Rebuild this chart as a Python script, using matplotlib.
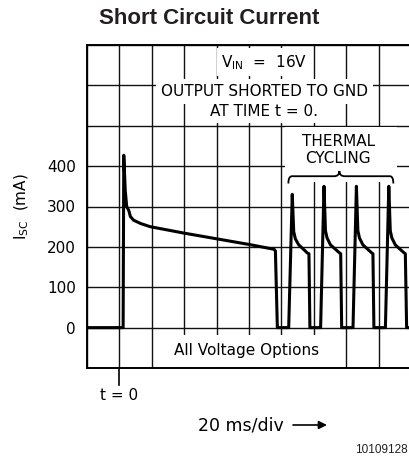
import matplotlib
matplotlib.use("Agg")
import matplotlib.pyplot as plt
from matplotlib.path import Path
from matplotlib.patches import PathPatch, Rectangle

plt.rcParams['font.family'] = ['DejaVu Sans']
plt.rcParams['mathtext.default'] = 'regular'

# time in ms (20 ms/div), current in mA
t_main = [-20, 2.3, 2.7, 3.6, 4.5, 5.8, 6.8, 8.8, 13, 19, 40, 60, 80, 95.5, 96.3, 97.5]
i_main = [0, 0, 427, 340, 300, 290, 275, 266, 258, 250, 234, 220, 206, 194, 190, 0]

t_cyc1 = [97.5, 104.5, 106.7, 107.6, 108.6, 110.7, 116.0, 117.0, 117.6]
i_cyc1 = [0, 0, 330, 238, 220, 205, 185, 183, 0]
t_cyc2 = [117.6, 124.2, 126.3, 127.2, 128.2, 130.3, 135.6, 136.6, 137.2]
i_cyc2 = [0, 0, 350, 240, 222, 205, 186, 183, 0]
t_cyc3 = [137.2, 144.2, 146.3, 147.2, 148.2, 150.3, 155.5, 156.5, 157.1]
i_cyc3 = [0, 0, 350, 240, 222, 205, 186, 183, 0]
t_cyc4 = [157.1, 164.2, 166.3, 167.2, 168.2, 170.3, 175.5, 176.5, 177.3, 182]
i_cyc4 = [0, 0, 350, 240, 222, 205, 186, 183, 0, 0]

y_ticks = [-100, 0, 100, 200, 300, 400, 500, 600, 700]
y_labels = ['', '0', '100', '200', '300', '400', '', '', '']
x_ticks = list(range(-20, 181, 20))

W, H = 409, 463
fig = plt.figure(figsize=(W / 100, H / 100), dpi=100)
ax = fig.add_axes([87 / W, (H - 368) / H, (411 - 87) / W, (368 - 45) / H])

t_all = t_main + t_cyc1[1:] + t_cyc2[1:] + t_cyc3[1:] + t_cyc4[1:]
i_all = i_main + i_cyc1[1:] + i_cyc2[1:] + i_cyc3[1:] + i_cyc4[1:]
ax.plot(t_all, i_all, color='black', lw=2.2, solid_joinstyle='round', zorder=3)

ax.set_xlim(-20, 180)
ax.set_ylim(-100, 700)
ax.set_xticks(x_ticks)
ax.set_xticklabels([])
ax.set_yticks(y_ticks)
ax.set_yticklabels(y_labels)
ax.tick_params(length=0, labelsize=11, pad=8)
ax.set_axisbelow(True)
ax.grid(True, color='#111111', lw=1.0)
for s in ax.spines.values():
    s.set_linewidth(1.4)

# text boxes inside the grid
box = dict(boxstyle='square,pad=0.3', fc='white', ec='none')
ax.text(89.5, 657, 'V$_{IN}$  =  16V', ha='center', va='center', fontsize=11, bbox=box, zorder=4)
ax.text(89.5, 585, 'OUTPUT SHORTED TO GND', ha='center', va='center', fontsize=11,
        bbox=dict(boxstyle='square,pad=0.35', fc='white', ec='none'), zorder=4)
ax.text(89.5, 536, 'AT TIME t = 0.', ha='center', va='center', fontsize=11, bbox=box, zorder=4)
ax.text(78.7, -57, 'All Voltage Options', ha='center', va='center', fontsize=11,
        bbox=dict(boxstyle='square,pad=0.55', fc='white', ec='none'), zorder=4)

ax.add_patch(Rectangle((102.5, 360), 69, 138, fc='white', ec='none', zorder=1))
ax.text(135.2, 460, 'THERMAL', ha='center', va='center', fontsize=11, zorder=4)
ax.text(135.2, 418, 'CYCLING', ha='center', va='center', fontsize=11, zorder=4)

verts = [(104.3, 357), (104.3, 375), (106.5, 375), (132.5, 375),
         (135.8, 375), (135.8, 388), (135.8, 375), (139.1, 375),
         (167.0, 375), (169.1, 375), (169.1, 357)]
codes = [Path.MOVETO, Path.CURVE3, Path.CURVE3, Path.LINETO,
         Path.CURVE3, Path.CURVE3, Path.CURVE3, Path.CURVE3,
         Path.LINETO, Path.CURVE3, Path.CURVE3]
ax.add_patch(PathPatch(Path(verts, codes), fc='none', ec='black', lw=1.3, zorder=4))

# t = 0 marker below the axes
ax.plot([0, 0], [-100, -141], color='black', lw=1.2, clip_on=False)
ax.text(0, -168, 't = 0', ha='center', va='center', fontsize=11, clip_on=False)

fig.text(22 / W, (H - 207) / H, 'I$_{SC}$  (mA)', rotation=90, ha='center', va='center', fontsize=11)
fig.text(209 / W, (H - 18) / H, 'Short Circuit Current', ha='center', va='center',
         fontsize=16, fontweight='bold', family='Liberation Sans', color='#231f20')
fig.text(198 / W, (H - 425) / H, '20 ms/div', ha='left', va='center', fontsize=12.5)
fig.add_artist(plt.Annotation('', xy=(327 / W, (H - 425) / H), xytext=(293 / W, (H - 425) / H),
                              xycoords='figure fraction', textcoords='figure fraction',
                              arrowprops=dict(arrowstyle='-|>', color='black', lw=1.2,
                                              mutation_scale=12, shrinkA=0, shrinkB=0)))
fig.text(408 / W, (H - 450) / H, '10109128', ha='right', va='center', fontsize=8.5,
         family='Liberation Sans', color='#231f20')

fig.savefig('out.png', dpi=100)
